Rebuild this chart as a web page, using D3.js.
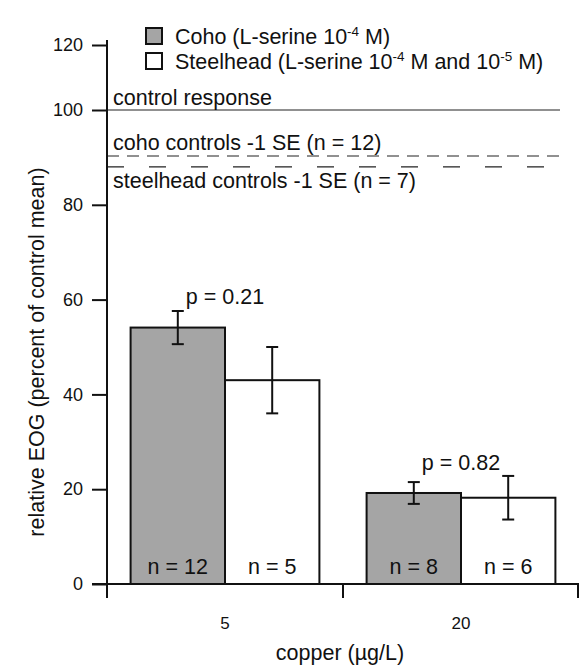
<!DOCTYPE html>
<html>
<head>
<meta charset="utf-8">
<script src="https://cdn.jsdelivr.net/npm/d3@7"></script>
<style>
  html, body { margin: 0; padding: 0; background: #fff; }
  svg text { font-family: "Liberation Sans", Arial, Helvetica, sans-serif; fill: #111; }
</style>
</head>
<body>
<svg id="chart" width="579" height="665"></svg>
<script>
// ---- data ----
const categories = ["5", "20"];
const seriesNames = ["Coho", "Steelhead"];
const cohoValues = [54.1, 19.2];
const cohoErrors = [3.5, 2.3];
const cohoN = ["n = 12", "n = 8"];
const steelheadValues = [43.0, 18.2];
const steelheadErrors = [7.0, 4.6];
const steelheadN = ["n = 5", "n = 6"];
const pLabels = ["p = 0.21", "p = 0.82"];
const yTicks = [0, 20, 40, 60, 80, 100, 120];
const refValues = [100, 90.3, 88.0];
const refLabels = ["control response", "coho controls -1 SE (n = 12)", "steelhead controls -1 SE (n = 7)"];

// ---- layout ----
const FS = 21.5;
const svg = d3.select("#chart");
const x0 = 107, x1 = 579;
const y = d3.scaleLinear().domain([0, 100, 120]).range([584, 110, 45]);
const xGroup = d3.scaleBand().domain(categories).range([x0, x1]).paddingInner(0.2).paddingOuter(0.1);
const xSeries = d3.scaleBand().domain(seriesNames).range([0, xGroup.bandwidth()]).padding(0);

const bars = [];
categories.forEach((c, i) => {
  bars.push({cat: c, s: "Coho", v: cohoValues[i], e: cohoErrors[i], n: cohoN[i]});
  bars.push({cat: c, s: "Steelhead", v: steelheadValues[i], e: steelheadErrors[i], n: steelheadN[i]});
});
const fill = {Coho: "#a5a5a5", Steelhead: "#ffffff"};

// reference lines
const refStyles = [null, "12,8", "17,25"];
svg.selectAll("line.ref").data(refValues).enter().append("line")
  .attr("x1", x0).attr("x2", 560)
  .attr("y1", d => y(d)).attr("y2", d => y(d))
  .attr("stroke", "#222").attr("stroke-width", 1.2)
  .attr("stroke-dasharray", (d, i) => refStyles[i]);
const refLabelY = [y(refValues[0]) - 5, y(refValues[1]) - 6, y(refValues[2]) + 21];
svg.selectAll("text.ref").data(refLabels).enter().append("text")
  .attr("x", 113).attr("y", (d, i) => refLabelY[i])
  .attr("font-size", FS).text(d => d);

// bars
const g = svg.append("g");
g.selectAll("rect.bar").data(bars).enter().append("rect")
  .attr("x", d => xGroup(d.cat) + xSeries(d.s))
  .attr("width", xSeries.bandwidth())
  .attr("y", d => y(d.v))
  .attr("height", d => y(0) - y(d.v))
  .attr("fill", d => fill[d.s])
  .attr("stroke", "#111").attr("stroke-width", 2);

// error bars
const cx = d => xGroup(d.cat) + xSeries(d.s) + xSeries.bandwidth() / 2;
g.selectAll("line.err").data(bars).enter().append("line")
  .attr("x1", cx).attr("x2", cx)
  .attr("y1", d => y(d.v + d.e)).attr("y2", d => y(d.v - d.e))
  .attr("stroke", "#111").attr("stroke-width", 2);
["top", "bot"].forEach(k => {
  g.selectAll("line.cap" + k).data(bars).enter().append("line")
    .attr("x1", d => cx(d) - 6).attr("x2", d => cx(d) + 6)
    .attr("y1", d => y(k === "top" ? d.v + d.e : d.v - d.e))
    .attr("y2", d => y(k === "top" ? d.v + d.e : d.v - d.e))
    .attr("stroke", "#111").attr("stroke-width", 2);
});

// n labels
g.selectAll("text.n").data(bars).enter().append("text")
  .attr("x", cx).attr("y", y(0) - 10)
  .attr("text-anchor", "middle").attr("font-size", FS)
  .text(d => d.n);

// p labels
const pBase = [304, 470];
svg.selectAll("text.p").data(categories).enter().append("text")
  .attr("x", d => xGroup(d) + xGroup.bandwidth() / 2)
  .attr("y", (d, i) => pBase[i])
  .attr("text-anchor", "middle").attr("font-size", FS)
  .text((d, i) => pLabels[i]);

// y axis
const yAxis = d3.axisLeft(y).tickValues(yTicks).tickSize(15).tickPadding(9);
const ya = svg.append("g").attr("transform", `translate(${x0},0)`).call(yAxis);
ya.select(".domain").remove();
ya.selectAll(".tick line").attr("stroke", "#111").attr("stroke-width", 2);
ya.selectAll(".tick text").attr("font-size", 18).attr("font-family", "Liberation Sans, Arial, sans-serif").attr("fill", "#111");
svg.append("line").attr("x1", x0).attr("x2", x0).attr("y1", 40).attr("y2", 598)
  .attr("stroke", "#111").attr("stroke-width", 2);

// x axis
svg.append("line").attr("x1", 92).attr("x2", x1).attr("y1", y(0)).attr("y2", y(0))
  .attr("stroke", "#111").attr("stroke-width", 2);
const boundaries = [x0, xGroup.step() + x0, x1 - 1];
svg.selectAll("line.xt").data(boundaries).enter().append("line")
  .attr("x1", d => d).attr("x2", d => d).attr("y1", y(0)).attr("y2", 598)
  .attr("stroke", "#111").attr("stroke-width", 2);
svg.selectAll("text.xl").data(categories).enter().append("text")
  .attr("x", d => xGroup(d) + xGroup.bandwidth() / 2)
  .attr("y", 629).attr("text-anchor", "middle").attr("font-size", 17)
  .text(d => d);

// axis titles
svg.append("text").attr("x", 340).attr("y", 660).attr("text-anchor", "middle")
  .attr("font-size", FS).text("copper (µg/L)");
svg.append("text").attr("transform", "translate(44,352) rotate(-90)")
  .attr("text-anchor", "middle").attr("font-size", FS)
  .text("relative EOG (percent of control mean)");

// legend
const legend = svg.append("g");
const legY = [28, 53];
const legItems = [
  {s: "Coho", parts: [["Coho (L-serine 10", false], ["-4", true], [" M)", false]]},
  {s: "Steelhead", parts: [["Steelhead (L-serine 10", false], ["-4", true], [" M and 10", false], ["-5", true], [" M)", false]]}
];
legItems.forEach((it, i) => {
  legend.append("rect").attr("x", 146).attr("y", legY[i]).attr("width", 16).attr("height", 16)
    .attr("fill", fill[it.s]).attr("stroke", "#111").attr("stroke-width", 2);
  const t = legend.append("text").attr("x", 175).attr("y", legY[i] + 16).attr("font-size", FS);
  let raised = false;
  it.parts.forEach(p => {
    if (p[1]) { t.append("tspan").attr("font-size", 13.5).attr("dy", -8).text(p[0]); raised = true; }
    else { t.append("tspan").attr("dy", raised ? 8 : 0).text(p[0]); raised = false; }
  });
});
</script>
</body>
</html>
